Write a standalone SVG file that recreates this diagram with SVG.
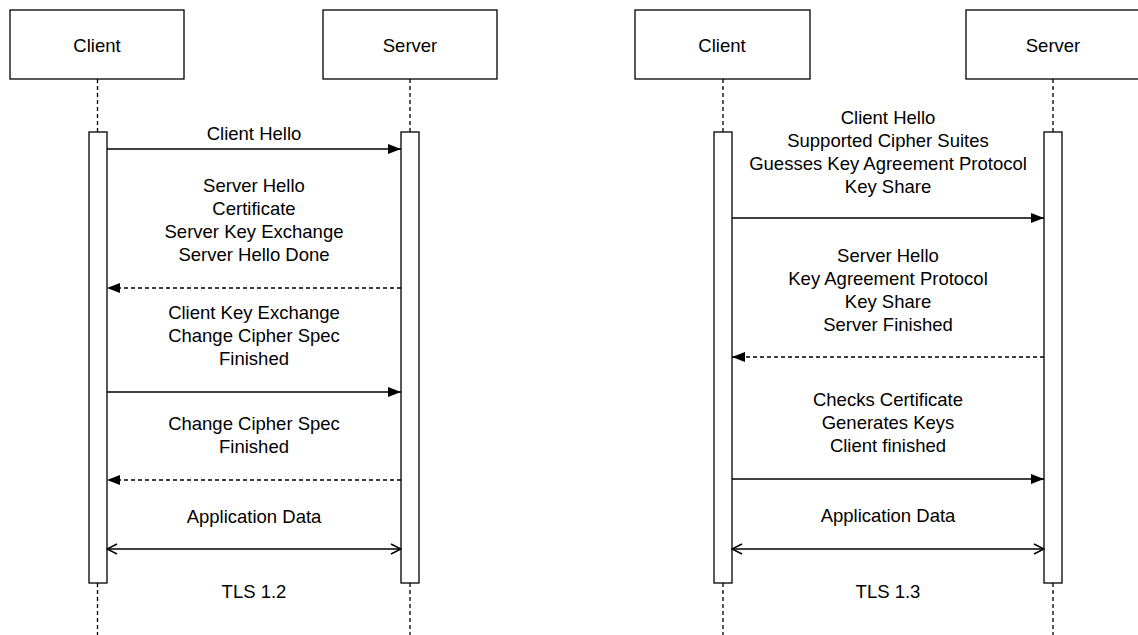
<svg xmlns="http://www.w3.org/2000/svg" width="1138" height="635" viewBox="0 0 1138 635">
<style>
.box{fill:#fff;stroke:#000;stroke-width:1.3}
.bar{fill:#fff;stroke:#000;stroke-width:1.3}
.life{stroke:#000;stroke-width:1.3;stroke-dasharray:4 3;fill:none}
.msg{stroke:#000;stroke-width:1.3;fill:none}
.dash{stroke-dasharray:4 3}
text{font-family:"Liberation Sans",Arial,sans-serif;font-size:18.5px;fill:#000;text-anchor:middle;dominant-baseline:central}
</style>
<defs>
<marker id="fill" viewBox="0 0 13 10" refX="13" refY="5" markerWidth="13" markerHeight="10" markerUnits="userSpaceOnUse" orient="auto">
<path d="M0,0 L13,5 L0,10 Z" fill="#000"/>
</marker>
<marker id="open" viewBox="0 0 12 12" refX="11" refY="6" markerWidth="12" markerHeight="12" markerUnits="userSpaceOnUse" orient="auto-start-reverse">
<path d="M1,1 L11,6 L1,11" fill="none" stroke="#000" stroke-width="1.5"/>
</marker>
</defs>
<rect width="1138" height="635" fill="#fff"/>

<g id="lifelines">
<line class="life" x1="97.5" y1="79" x2="97.5" y2="132"/>
<line class="life" x1="97.5" y1="583" x2="97.5" y2="635"/>
<line class="life" x1="410" y1="79" x2="410" y2="132"/>
<line class="life" x1="410" y1="583" x2="410" y2="635"/>
<line class="life" x1="723" y1="79" x2="723" y2="132"/>
<line class="life" x1="723" y1="583" x2="723" y2="635"/>
<line class="life" x1="1053" y1="79" x2="1053" y2="132"/>
<line class="life" x1="1053" y1="583" x2="1053" y2="635"/>
</g>

<g id="client12">
<rect class="box" x="10" y="10" width="174" height="69"/>
<text x="97" y="45">Client</text>
<rect class="bar" x="89" y="132" width="18" height="451"/>
</g>
<g id="server12">
<rect class="box" x="323" y="10" width="174" height="69"/>
<text x="410" y="45">Server</text>
<rect class="bar" x="401" y="132" width="18" height="451"/>
</g>
<g id="client13">
<rect class="box" x="635" y="10" width="175" height="69"/>
<text x="722" y="45">Client</text>
<rect class="bar" x="714" y="132" width="18" height="451"/>
</g>
<g id="server13">
<rect class="box" x="966" y="10" width="180" height="69"/>
<text x="1053" y="45">Server</text>
<rect class="bar" x="1044" y="132" width="18" height="451"/>
</g>

<g id="connectors">
<line class="msg" x1="107" y1="149" x2="401" y2="149" marker-end="url(#fill)"/>
<line class="msg dash" x1="401" y1="288" x2="107" y2="288" marker-end="url(#fill)"/>
<line class="msg" x1="107" y1="392" x2="401" y2="392" marker-end="url(#fill)"/>
<line class="msg dash" x1="401" y1="480" x2="107" y2="480" marker-end="url(#fill)"/>
<line class="msg" x1="107" y1="549" x2="401" y2="549" marker-start="url(#open)" marker-end="url(#open)"/>

<line class="msg" x1="732" y1="218" x2="1044" y2="218" marker-end="url(#fill)"/>
<line class="msg dash" x1="1044" y1="357" x2="732" y2="357" marker-end="url(#fill)"/>
<line class="msg" x1="732" y1="479" x2="1044" y2="479" marker-end="url(#fill)"/>
<line class="msg" x1="732" y1="549" x2="1044" y2="549" marker-start="url(#open)" marker-end="url(#open)"/>
</g>

<g id="labels12">
<text x="254" y="133">Client Hello</text>
<text x="254" y="185">Server Hello</text>
<text x="254" y="208">Certificate</text>
<text x="254" y="231">Server Key Exchange</text>
<text x="254" y="254">Server Hello Done</text>
<text x="254" y="312">Client Key Exchange</text>
<text x="254" y="335">Change Cipher Spec</text>
<text x="254" y="358">Finished</text>
<text x="254" y="423">Change Cipher Spec</text>
<text x="254" y="446">Finished</text>
<text x="254" y="516">Application Data</text>
<text x="254" y="591">TLS 1.2</text>
</g>
<g id="labels13">
<text x="888" y="117">Client Hello</text>
<text x="888" y="140">Supported Cipher Suites</text>
<text x="888" y="163">Guesses Key Agreement Protocol</text>
<text x="888" y="186">Key Share</text>
<text x="888" y="255">Server Hello</text>
<text x="888" y="278">Key Agreement Protocol</text>
<text x="888" y="301">Key Share</text>
<text x="888" y="324">Server Finished</text>
<text x="888" y="399">Checks Certificate</text>
<text x="888" y="422">Generates Keys</text>
<text x="888" y="445">Client finished</text>
<text x="888" y="515">Application Data</text>
<text x="888" y="591">TLS 1.3</text>
</g>
</svg>
